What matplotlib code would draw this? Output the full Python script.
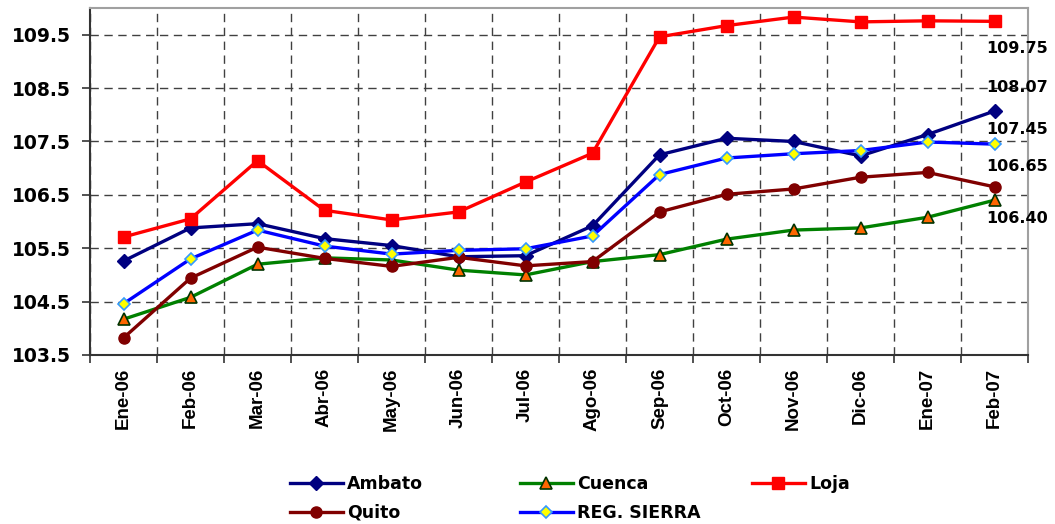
import matplotlib
matplotlib.use("Agg")
import matplotlib.pyplot as plt

plt.rcParams['font.family'] = ['Liberation Sans', 'DejaVu Sans']

months = ["Ene-06", "Feb-06", "Mar-06", "Abr-06", "May-06", "Jun-06", "Jul-06",
          "Ago-06", "Sep-06", "Oct-06", "Nov-06", "Dic-06", "Ene-07", "Feb-07"]

ambato = [105.26, 105.88, 105.96, 105.68, 105.55, 105.34, 105.36,
          105.92, 107.25, 107.56, 107.50, 107.23, 107.63, 108.07]
cuenca = [104.17, 104.58, 105.20, 105.32, 105.28, 105.09, 105.00,
          105.25, 105.38, 105.67, 105.84, 105.88, 106.08, 106.40]
loja = [105.71, 106.05, 107.14, 106.21, 106.03, 106.18, 106.74,
        107.28, 109.46, 109.67, 109.83, 109.74, 109.76, 109.75]
quito = [103.82, 104.94, 105.52, 105.31, 105.16, 105.33, 105.17,
         105.25, 106.18, 106.51, 106.61, 106.83, 106.92, 106.65]
sierra = [104.46, 105.30, 105.84, 105.54, 105.39, 105.46, 105.49,
          105.73, 106.88, 107.19, 107.27, 107.33, 107.49, 107.45]

end_labels = ["109.75", "108.07", "107.45", "106.65", "106.40"]
end_label_y = [109.25, 108.52, 107.73, 107.03, 106.06]

yticks = [103.5, 104.5, 105.5, 106.5, 107.5, 108.5, 109.5]

WIDE = ['DejaVu Sans']

fig = plt.figure(figsize=(10.55, 5.24), dpi=100)
ax = fig.add_axes([90/1055, 1-355/524, 938/1055, 347/524])

x = list(range(len(months)))
lw = 2.4
series = [
    ("Ambato", ambato, dict(color="#000080", marker="D", markersize=7,
                            markerfacecolor="#000080", markeredgecolor="#000080")),
    ("Cuenca", cuenca, dict(color="#008000", marker="^", markersize=9,
                            markerfacecolor="#FF6600", markeredgecolor="#003300", markeredgewidth=1.2)),
    ("Loja", loja, dict(color="#FF0000", marker="s", markersize=8,
                        markerfacecolor="#FF0000", markeredgecolor="#FF0000")),
    ("Quito", quito, dict(color="#800000", marker="o", markersize=8,
                          markerfacecolor="#800000", markeredgecolor="#800000")),
    ("REG. SIERRA", sierra, dict(color="#0000FF", marker="D", markersize=6.5,
                                 markerfacecolor="#FFFF00", markeredgecolor="#3399FF", markeredgewidth=1.2)),
]
handles = {}
for name, vals, st in series:
    h, = ax.plot(x, vals, linewidth=lw, label=name, zorder=3, **st)
    handles[name] = h

ax.set_xlim(-0.5, len(months) - 0.5)
ax.set_ylim(103.5, 110.0)

ax.set_xticks([i - 0.5 for i in range(len(months) + 1)])
ax.set_xticklabels([])
ax.set_xticks(x, minor=True)
ax.set_xticklabels(months, minor=True, rotation=90, fontsize=13.5, fontweight='bold')
ax.tick_params(axis='x', which='minor', length=0, pad=9)
ax.tick_params(axis='x', which='major', direction='out', length=6, width=1.2, color='#333333')

ax.set_yticks(yticks)
ax.set_yticklabels([f"{v:.1f}" for v in yticks], fontsize=13.5, fontweight='bold', family=WIDE)
ax.tick_params(axis='y', direction='out', length=6, width=1.2, color='#333333', pad=8)

ax.grid(True, which='major', axis='both', color='#404040', linestyle=(0, (6, 4)), linewidth=1.0, zorder=0)

for s in ['left', 'bottom']:
    ax.spines[s].set_color('#333333')
    ax.spines[s].set_linewidth(1.5)
for s in ['top', 'right']:
    ax.spines[s].set_color('#A0A0A0')
    ax.spines[s].set_linewidth(1.5)

for lab, yy in zip(end_labels, end_label_y):
    ax.text(13.34, yy, lab, ha='center', va='center', fontsize=11.5, fontweight='bold',
            family=WIDE, color='black', zorder=5, clip_on=False)

col_groups = [["Ambato", "Quito"], ["Cuenca", "REG. SIERRA"], ["Loja"]]
col_x = [290, 520, 752]
for names, cx in zip(col_groups, col_x):
    fig.legend([handles[n] for n in names], names, loc='upper left',
               bbox_to_anchor=(cx/1055, 1 - 475/524), frameon=False,
               prop=dict(size=12.5, weight='bold', family=WIDE), handlelength=3.05,
               handletextpad=0.25, labelspacing=0.62, borderpad=0, borderaxespad=0)

fig.savefig("out.png", dpi=100)
